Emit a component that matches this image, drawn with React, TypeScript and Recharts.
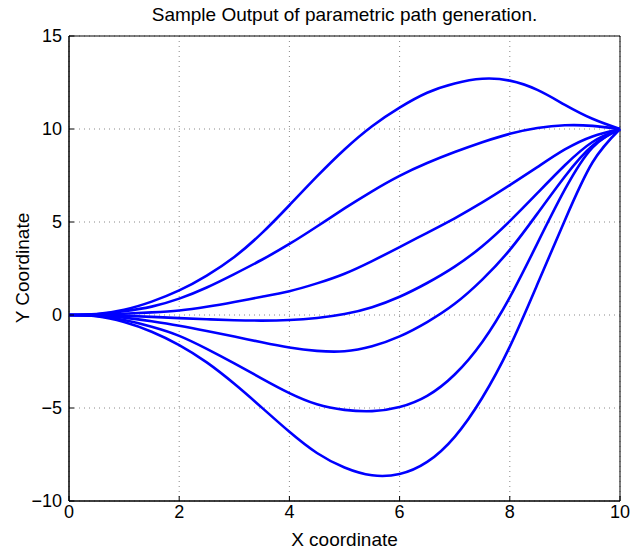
import { LineChart, Line, XAxis, YAxis, CartesianGrid, ReferenceArea } from 'recharts'

const xs = [0, 0.5, 1, 1.5, 2, 2.5, 3, 3.5, 4, 4.5, 5, 5.5, 6, 6.5, 7, 7.5, 8, 8.5, 9, 9.5, 10]

const path1 = [0, 0.05, 0.28, 0.72, 1.32, 2.12, 3.12, 4.4, 5.9, 7.45, 8.9, 10.15, 11.15, 11.95, 12.45, 12.7, 12.6, 12.1, 11.3, 10.55, 10]
const path2 = [0, 0.04, 0.2, 0.45, 0.88, 1.48, 2.2, 2.97, 3.82, 4.76, 5.73, 6.65, 7.48, 8.17, 8.76, 9.29, 9.74, 10.05, 10.2, 10.17, 10]
const path3 = [0, 0.02, 0.07, 0.14, 0.24, 0.44, 0.7, 0.98, 1.28, 1.7, 2.22, 2.9, 3.65, 4.42, 5.2, 6.05, 6.98, 7.95, 8.9, 9.6, 10]
const path4 = [0, -0.01, -0.04, -0.1, -0.17, -0.23, -0.28, -0.3, -0.27, -0.16, 0.05, 0.42, 0.98, 1.72, 2.6, 3.7, 5.05, 6.55, 8.05, 9.3, 10]
const path5 = [0, -0.03, -0.14, -0.34, -0.58, -0.86, -1.16, -1.47, -1.75, -1.93, -1.95, -1.68, -1.15, -0.38, 0.6, 1.9, 3.5, 5.45, 7.45, 9.1, 10]
const path6 = [0, -0.05, -0.27, -0.63, -1.12, -1.82, -2.6, -3.42, -4.2, -4.8, -5.1, -5.17, -4.95, -4.35, -3.2, -1.45, 0.95, 3.85, 6.75, 9.0, 10]
const path7 = [0, -0.07, -0.38, -0.9, -1.62, -2.55, -3.7, -4.98, -6.28, -7.42, -8.2, -8.62, -8.55, -7.9, -6.55, -4.45, -1.7, 1.65, 5.1, 8.2, 10]

const paths = [path1, path2, path3, path4, path5, path6, path7]

const xTicks = [0, 2, 4, 6, 8, 10]
const yTicks = [-10, -5, 0, 5, 10, 15]

const data = xs.map((x, i) => {
  const row: Record<string, number> = { x }
  paths.forEach((p, k) => {
    row[`p${k + 1}`] = p[i]
  })
  return row
})

const font = '"Liberation Sans", Arial, Helvetica, sans-serif'
const fmt = (v: number) => (v < 0 ? `\u2212${-v}` : `${v}`)

export default function App() {
  return (
    <div style={{ position: 'absolute', left: 0, top: 0, width: 642, height: 552, background: '#fff', fontFamily: font }}>
      <div style={{ position: 'absolute', left: 69, width: 551, top: 4, textAlign: 'center', fontSize: 19, color: '#000' }}>
        Sample Output of parametric path generation.
      </div>
      <div style={{ position: 'absolute', left: 69, width: 551, top: 529, textAlign: 'center', fontSize: 19, color: '#000' }}>
        X coordinate
      </div>
      <div
        style={{
          position: 'absolute',
          left: 23,
          top: 268,
          fontSize: 19,
          color: '#000',
          whiteSpace: 'nowrap',
          transform: 'translate(-50%, -50%) rotate(-90deg)',
        }}
      >
        Y Coordinate
      </div>
      <LineChart width={642} height={552} data={data} margin={{ top: 36, right: 22, bottom: 21, left: 19 }}>
        <CartesianGrid stroke="#888" strokeDasharray="1 4" />
        <XAxis
          dataKey="x"
          type="number"
          domain={[0, 10]}
          ticks={xTicks}
          height={30}
          stroke="#000"
          tickSize={-5}
          tickMargin={9}
          tick={{ fill: '#000', fontSize: 18, fontFamily: font }}
        />
        <YAxis
          type="number"
          domain={[-10, 15]}
          ticks={yTicks}
          width={50}
          stroke="#000"
          tickSize={-5}
          tickMargin={12}
          tickFormatter={fmt}
          tick={{ fill: '#000', fontSize: 18, fontFamily: font }}
        />
        <ReferenceArea x1={0} x2={10} y1={-10} y2={15} fill="none" stroke="#000" strokeWidth={1} ifOverflow="visible" />
        {paths.map((_, k) => (
          <Line
            key={k}
            type="natural"
            dataKey={`p${k + 1}`}
            stroke="#0000ff"
            strokeWidth={2.6}
            dot={false}
            isAnimationActive={false}
          />
        ))}
      </LineChart>
    </div>
  )
}
